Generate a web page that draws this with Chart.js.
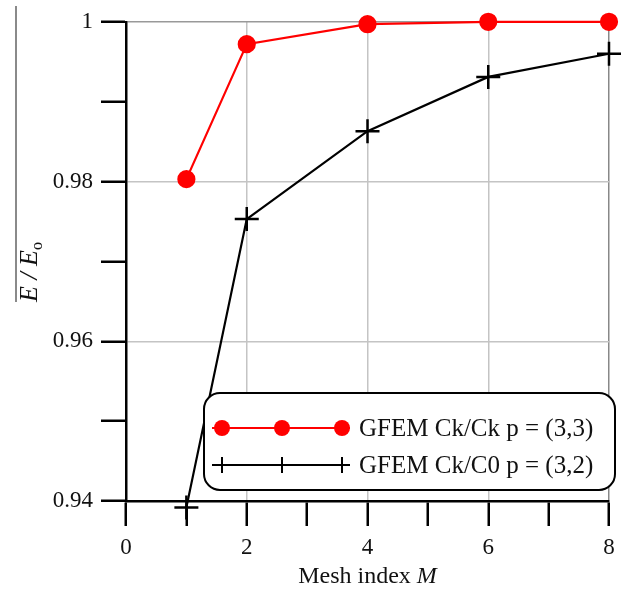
<!DOCTYPE html>
<html>
<head>
<meta charset="utf-8">
<script src="https://cdn.jsdelivr.net/npm/chart.js@4.4.1/dist/chart.umd.min.js"></script>
<style>
  html, body { margin: 0; padding: 0; background: #fff; }
</style>
</head>
<body>
<canvas id="grafico" width="624" height="592"></canvas>
<script>
// datos
var meshIndex = [1, 2, 4, 6, 8];
var ckCk = [0.9803, 0.9972, 0.9997, 1.0, 1.0];
var ckC0 = [0.9392, 0.9753, 0.9863, 0.9931, 0.9960];
var xTickLabels = [0, 2, 4, 6, 8];
var yTickLabels = [0.94, 0.96, 0.98, 1];
var serieLabels = ['GFEM Ck/Ck p = (3,3)', 'GFEM Ck/C0 p = (3,2)'];

var serif = '"Liberation Serif", "DejaVu Serif", serif';

function puntos(ys) {
  return meshIndex.map(function (x, i) { return { x: x, y: ys[i] }; });
}

// titulos de ejes y leyenda dibujados a mano
var decoracion = {
  id: 'decoracion',
  beforeDraw: function (chart) {
    var ctx = chart.ctx;
    ctx.save();
    ctx.strokeStyle = '#8a8a8a';
    ctx.lineWidth = 2;
    ctx.beginPath();
    ctx.moveTo(16, 6);
    ctx.lineTo(16, 302);
    ctx.stroke();
    ctx.restore();
  },
  afterDraw: function (chart) {
    var ctx = chart.ctx;
    var area = chart.chartArea;
    ctx.save();

    // titulo eje x
    ctx.fillStyle = '#111';
    ctx.textBaseline = 'alphabetic';
    var f1 = '24px ' + serif, f2 = 'italic 24px ' + serif;
    ctx.font = f1;
    var w1 = ctx.measureText('Mesh index ').width;
    ctx.font = f2;
    var w2 = ctx.measureText('M').width;
    var x0 = (area.left + area.right) / 2 - (w1 + w2) / 2;
    ctx.font = f1;
    ctx.fillText('Mesh index ', x0, 583);
    ctx.font = f2;
    ctx.fillText('M', x0 + w1, 583);

    // titulo eje y
    ctx.save();
    ctx.translate(37, 272);
    ctx.rotate(-Math.PI / 2);
    ctx.font = 'italic 26px ' + serif;
    var a = ctx.measureText('E / E').width;
    ctx.font = '16px ' + serif;
    var b = ctx.measureText('o').width;
    var sx = -(a + b) / 2;
    ctx.font = 'italic 26px ' + serif;
    ctx.fillText('E / E', sx, 0);
    ctx.font = '16px ' + serif;
    ctx.fillText('o', sx + a, 5);
    ctx.restore();

    // leyenda
    var bx = 204, by = 393, bw = 411, bh = 97;
    ctx.beginPath();
    ctx.roundRect(bx, by, bw, bh, 16);
    ctx.fillStyle = '#fff';
    ctx.fill();
    ctx.lineWidth = 2;
    ctx.strokeStyle = '#000';
    ctx.stroke();

    var ds = chart.data.datasets;
    var filas = [428, 465];
    var marcas = [222, 282, 342];
    ds.forEach(function (d, i) {
      var y = filas[i];
      ctx.strokeStyle = d.borderColor;
      ctx.lineWidth = 2;
      ctx.beginPath();
      ctx.moveTo(212, y);
      ctx.lineTo(350, y);
      ctx.stroke();
      marcas.forEach(function (mx) {
        if (d.pointStyle === 'circle') {
          ctx.beginPath();
          ctx.arc(mx, y, 8, 0, Math.PI * 2);
          ctx.fillStyle = d.pointBackgroundColor;
          ctx.fill();
        } else {
          ctx.beginPath();
          ctx.moveTo(mx, y - 8);
          ctx.lineTo(mx, y + 8);
          ctx.stroke();
        }
      });
      ctx.fillStyle = '#111';
      ctx.font = '25px ' + serif;
      ctx.textBaseline = 'middle';
      ctx.fillText(d.label, 359, y + 1);
    });
    ctx.restore();
  }
};

var grafico = new Chart(document.getElementById('grafico'), {
  type: 'line',
  data: {
    datasets: [{
      label: serieLabels[0],
      data: puntos(ckCk),
      borderColor: '#ff0000',
      backgroundColor: '#ff0000',
      pointBackgroundColor: '#ff0000',
      pointBorderColor: '#ff0000',
      pointStyle: 'circle',
      pointRadius: 8,
      borderWidth: 2.2,
      clip: false
    }, {
      label: serieLabels[1],
      data: puntos(ckC0),
      borderColor: '#000',
      backgroundColor: '#000',
      pointBackgroundColor: '#000',
      pointBorderColor: '#000',
      pointStyle: 'cross',
      pointRadius: 12,
      pointBorderWidth: 2.5,
      borderWidth: 2.2,
      clip: false
    }]
  },
  options: {
    responsive: false,
    animation: false,
    layout: { padding: { top: 20, right: 15, left: 0, bottom: 0 } },
    plugins: {
      legend: { display: false },
      tooltip: { enabled: false }
    },
    scales: {
      x: {
        type: 'linear',
        min: 0,
        max: 8,
        afterFit: function (s) { s.height = 91; },
        border: { color: '#000', width: 2.5 },
        grid: {
          color: function (c) {
            var v = c.tick.value;
            if (v === 0 || v % 2 !== 0) return 'rgba(0,0,0,0)';
            if (v === 8) return '#888';
            return '#c4c4c4';
          },
          lineWidth: 1.5,
          tickColor: '#000',
          tickLength: 25,
          tickWidth: 2.5
        },
        ticks: {
          stepSize: 1,
          padding: 8,
          color: '#111',
          font: { family: serif, size: 23 },
          maxRotation: 0,
          callback: function (v) { return xTickLabels.indexOf(v) >= 0 ? String(v) : ''; }
        }
      },
      y: {
        min: 0.94,
        max: 1,
        afterFit: function (s) { s.width = 126; },
        border: { color: '#000', width: 2.5 },
        grid: {
          color: function (c) {
            var k = Math.round(c.tick.value * 100);
            if (k === 94 || k % 2 !== 0) return 'rgba(0,0,0,0)';
            if (k === 100) return '#999';
            return '#c4c4c4';
          },
          lineWidth: 1.5,
          tickColor: '#000',
          tickLength: 25,
          tickWidth: 2.5
        },
        ticks: {
          stepSize: 0.01,
          padding: 8,
          color: '#111',
          font: { family: serif, size: 23 },
          callback: function (v) {
            var k = Math.round(v * 100);
            for (var i = 0; i < yTickLabels.length; i++) {
              if (Math.round(yTickLabels[i] * 100) === k) return String(yTickLabels[i]);
            }
            return '';
          }
        }
      }
    }
  },
  plugins: [decoracion]
});
</script>
</body>
</html>
